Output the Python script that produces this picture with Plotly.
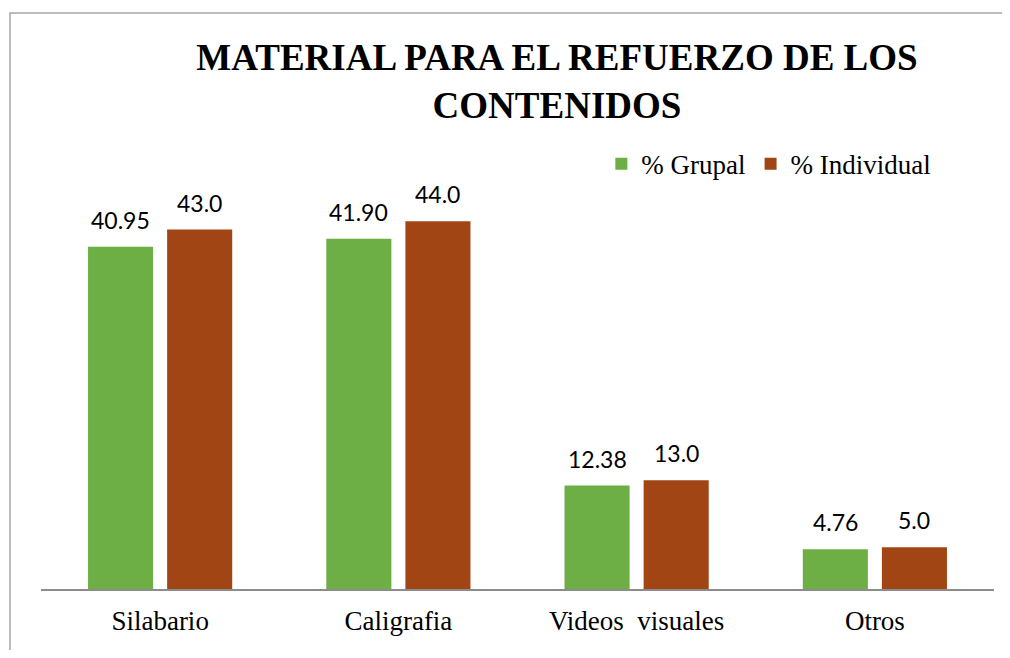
import plotly.graph_objects as go

categories = ["Silabario", "Caligrafia", "Videos\u00a0\u00a0visuales", "Otros"]
grupal = [40.95, 41.90, 12.38, 4.76]
individual = [43.0, 44.0, 13.0, 5.0]
series_names = ["% Grupal", "% Individual"]
title_text = "<b>MATERIAL PARA EL REFUERZO DE LOS<br>CONTENIDOS</b>"

GREEN = "#6dae45"
RED = "#a24515"

fig = go.Figure()
fig.add_trace(go.Bar(x=categories, y=grupal, name=series_names[0],
                     marker=dict(color=GREEN, line=dict(width=0))))
fig.add_trace(go.Bar(x=categories, y=individual, name=series_names[1],
                     marker=dict(color=RED, line=dict(width=0))))

ann = []
for i, c in enumerate(categories):
    ann.append(dict(x=c, y=grupal[i], xref="x", yref="y", text=f"{grupal[i]:.2f}",
                    showarrow=False, xshift=-39.5, yshift=27, yanchor="middle",
                    font=dict(family="Lato", size=23, color="#000")))
    ann.append(dict(x=c, y=individual[i], xref="x", yref="y", text=f"{individual[i]:.1f}",
                    showarrow=False, xshift=39.5, yshift=27, yanchor="middle",
                    font=dict(family="Lato", size=23, color="#000")))

W, H = 994, 642
L, R, T, B = 33, 8, 163, 61
pw, ph = W - L - R, H - T - B
def px(xp):
    return (xp - L) / pw
def py(yp):
    return (H - B - yp) / ph

border_path = (f"M {px(2)} {py(H + 5)} L {px(2)} {py(5)} L {px(W + 5)} {py(5)}")
shapes = [
    dict(type="path", xref="paper", yref="paper", path=border_path,
         line=dict(color="#a6a6a6", width=1.5)),
]

fig.update_layout(
    width=W, height=H,
    margin=dict(l=L, r=R, t=T, b=B),
    paper_bgcolor="white", plot_bgcolor="white",
    barmode="group", bargap=0.336, bargroupgap=0.177,
    title=dict(text=title_text, x=549 / W, xanchor="center", y=1 - 62 / H, yanchor="top",
               font=dict(family="Liberation Serif", size=37, color="#000")),
    font=dict(family="Liberation Serif", color="#000"),
    legend=dict(orientation="h", x=0.588, xanchor="left", y=1.016, yanchor="middle",
                font=dict(family="Liberation Serif", size=27, color="#000"),
                bgcolor="rgba(0,0,0,0)", itemclick=False),
    xaxis=dict(showline=True, linecolor="#8c8c8c", linewidth=1.5, ticks="",
               ticklabelstandoff=7,
               tickfont=dict(family="Liberation Serif", size=27, color="#000"),
               showgrid=False, zeroline=False),
    yaxis=dict(range=[0, 50], visible=False, showgrid=False, zeroline=False),
    annotations=ann,
    shapes=shapes,
    showlegend=True,
)

fig.write_html("out.html")
